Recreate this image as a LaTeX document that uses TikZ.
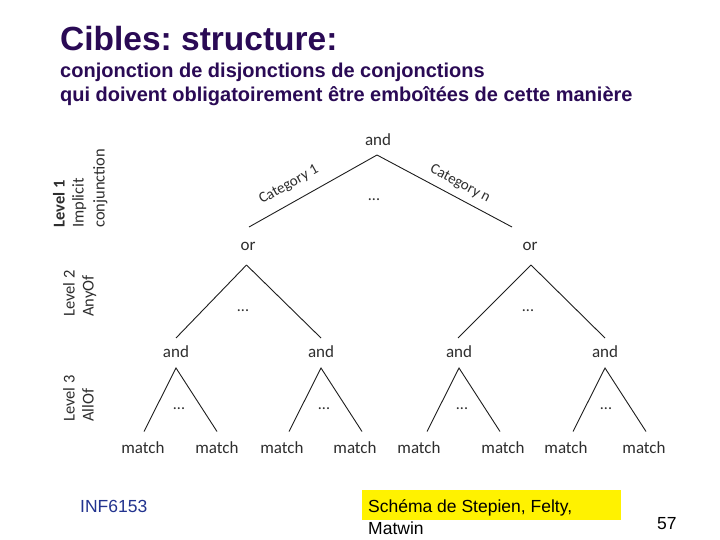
\documentclass[tikz,border=0pt]{standalone}
\usepackage{fontspec}
\setmainfont{Liberation Sans}
\newfontfamily\diagfont{Carlito}
\usetikzlibrary{calc}
\definecolor{titlecol}{HTML}{2A0A55}
\definecolor{footblue}{HTML}{22338F}
\definecolor{diagtext}{HTML}{2E2E2E}
\definecolor{diagline}{HTML}{1E1E1E}
\frenchspacing
\begin{document}
\begin{tikzpicture}[x=1pt,y=-1pt,
  treenode/.style={font=\diagfont\fontsize{17}{17}\selectfont, text=diagtext, inner sep=0pt},
  dotsnode/.style={font=\diagfont\fontsize{16}{16}\selectfont, text=diagtext, inner sep=0pt},
  catlabel/.style={font=\diagfont\fontsize{15}{15}\selectfont, text=diagtext, inner sep=0pt},
  levellabel/.style={font=\diagfont\fontsize{16.5}{16.5}\selectfont, text=diagtext, inner sep=0pt, rotate=90, anchor=mid west},
  edge/.style={draw=diagline, line width=0.9pt},
  titletext/.style={text=titlecol, inner sep=0pt, anchor=base west},
  foottext/.style={inner sep=0pt, anchor=base west, font=\fontsize{17.5}{17.5}\selectfont}
]
\useasboundingbox (0,0) rectangle (720,540);
\fill[white] (0,0) rectangle (720,540);

% Title
\node[titletext, font=\bfseries\fontsize{33.5}{33.5}\selectfont] (title) at (60,51) {Cibles: structure:};
\node[titletext, font=\bfseries\fontsize{20}{20}\selectfont] (sub1) at (60,78) {conjonction de disjonctions de conjonctions};
\node[titletext, font=\bfseries\fontsize{20}{20}\selectfont] (sub2) at (60,102) {qui doivent obligatoirement être emboîtées de cette manière};

% Tree nodes
\node[treenode] (root) at (378,140) {and};
\node[treenode] (or1) at (248,246) {or};
\node[treenode] (or2) at (530,246) {or};
\node[treenode] (and1) at (176,352) {and};
\node[treenode] (and2) at (321,352) {and};
\node[treenode] (and3) at (459,352) {and};
\node[treenode] (and4) at (605,352) {and};
\node[treenode] (m1) at (143,448) {match};
\node[treenode] (m2) at (217,448) {match};
\node[treenode] (m3) at (282,448) {match};
\node[treenode] (m4) at (355,448) {match};
\node[treenode] (m5) at (419,448) {match};
\node[treenode] (m6) at (503,448) {match};
\node[treenode] (m7) at (566,448) {match};
\node[treenode] (m8) at (644,448) {match};

% Level 1 edges
\draw[edge] ($(root)+(-1,15)$) -- ($(or1)+(1,-19)$);
\draw[edge] ($(root)+(-1,15)$) -- ($(or2)+(-18,-19)$);
\node[catlabel, rotate=29] (cat1) at (289,185) {Category 1};
\node[catlabel, rotate=-28] (catn) at (460,184) {Category n};
\node[dotsnode] (d0) at (374,200) {...};

% Level 2 edges
\draw[edge] ($(or1)+(-1.5,19)$) -- ($(and1)+(0,-14)$);
\draw[edge] ($(or1)+(-1.5,19)$) -- ($(and2)+(0,-14)$);
\draw[edge] ($(or2)+(1,19)$) -- ($(and3)+(-1,-14)$);
\draw[edge] ($(or2)+(1,19)$) -- ($(and4)+(0,-14)$);
\node[dotsnode] (d1) at (243,311) {...};
\node[dotsnode] (d2) at (528,311) {...};

% Level 3 edges
\foreach \a in {and1,and2,and3,and4}{
  \draw[edge] ($(\a)+(-32,79.5)$) -- ($(\a)+(0,16)$) -- ($(\a)+(41,79.5)$);
}
\node[dotsnode] (d3) at (179,409) {...};
\node[dotsnode] (d4) at (324,409) {...};
\node[dotsnode] (d5) at (462,409) {...};
\node[dotsnode] (d6) at (606,409) {...};

% Level labels
\node[levellabel, font=\diagfont\bfseries\fontsize{16.5}{16.5}\selectfont] (l1a) at (62,228) {Level 1};
\node[levellabel] (l1b) at (81,228) {Implicit};
\node[levellabel] (l1c) at (102,228) {conjunction};
\node[levellabel] (l2a) at (72,317) {Level 2};
\node[levellabel] (l2b) at (91,317) {AnyOf};
\node[levellabel] (l3a) at (72,422) {Level 3};
\node[levellabel] (l3b) at (91,422) {AllOf};

% Footer
\node[foottext, text=footblue] (inf) at (80,512) {INF6153};
\fill[yellow] (362,490) rectangle (621,520);
\node[foottext] (src1) at (368,512) {Schéma de Stepien, Felty,};
\node[foottext] (src2) at (368,534) {Matwin};
\node[foottext] (page) at (657,529) {57};
\end{tikzpicture}
\end{document}
